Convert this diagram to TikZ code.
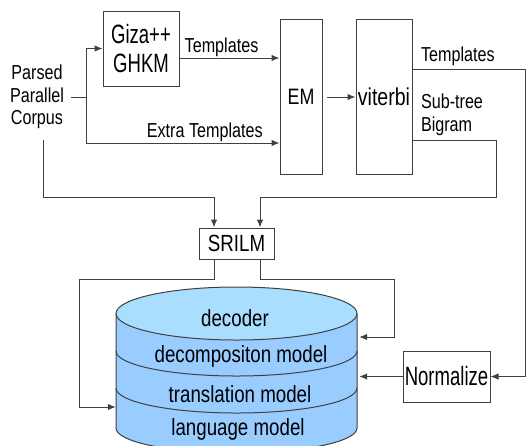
\documentclass[tikz,border=0pt]{standalone}
\usepackage{fontspec}
\setmainfont[FakeStretch=0.80]{Liberation Sans}
\newfontfamily\narrowfont[FakeStretch=0.70]{Liberation Sans}
\usetikzlibrary{arrows.meta,positioning}
\definecolor{dbtop}{RGB}{170,222,255}
\definecolor{dbbody}{RGB}{153,204,255}

\begin{document}
\begin{tikzpicture}[x=1pt,y=-1pt,
    box/.style={draw=black!75,line width=1pt,inner sep=0pt,align=center},
    lbl/.style={inner sep=1pt,font=\fontsize{20.2}{22.5}\selectfont},
    dbtxt/.style={inner sep=0pt,anchor=base,font=\fontsize{23.4}{27}\selectfont},
    conn/.style={draw=black!75,line width=1pt},
    flow/.style={conn,-{Latex[length=8pt,width=6.5pt]}}]
    \useasboundingbox (0,0) rectangle (526,445);

    % the database cylinder
    \fill[dbbody] (116,313.5) -- (116,428) arc[start angle=180,end angle=0,x radius=120.5,y radius=25] -- (357,313.5) -- cycle;
    \draw[conn] (116,313.5) -- (116,428) arc[start angle=180,end angle=0,x radius=120.5,y radius=25] -- (357,313.5);
    \draw[conn,fill=dbtop] (236.5,313.5) ellipse[x radius=120.5,y radius=26.5];
    \draw[conn] (116,351) arc[start angle=180,end angle=0,x radius=120.5,y radius=25];
    \draw[conn] (116,388) arc[start angle=180,end angle=0,x radius=120.5,y radius=25];
    \node[minimum width=241pt,minimum height=120pt,inner sep=0pt] (db) at (236.5,380) {};
    \node[dbtxt] (decoder) at (235,326) {decoder};
    \node[dbtxt] (decomp) at (241,362) {decompositon model};
    \node[dbtxt] (transl) at (240,402) {translation model};
    \node[dbtxt] (langm) at (238,435) {language model};

    \node[lbl,align=center] (corpus) at (37,97) {Parsed\\Parallel\\Corpus};
    \node[box,minimum width=76pt,minimum height=75pt,font=\narrowfont\fontsize{26.5}{29}\selectfont] (giza) at (141,48.5) {Giza++\\GHKM};
    \node[box,minimum width=42pt,minimum height=155pt,font=\fontsize{22.3}{25}\selectfont] (em) at (301,97) {EM};
    \node[box,minimum width=56pt,minimum height=155pt,font=\fontsize{24.4}{27}\selectfont] (viterbi) at (384,97) {viterbi};
    \node[box,minimum width=75pt,minimum height=31pt,font=\fontsize{23.4}{26}\selectfont] (srilm) at (236.5,243.5) {SRILM};
    \node[box,minimum width=87pt,minimum height=51pt,font=\narrowfont\fontsize{26.5}{29}\selectfont] (normalize) at (446.5,376.5) {Normalize};

    \coordinate (split) at (86,97);
    \coordinate (tpl) at (0,58);
    \coordinate (xtpl) at (0,143);
    \coordinate (tplout) at (0,69);
    \coordinate (rim) at (525,0);
    \coordinate (bgm) at (496,140);
    \coordinate (merge) at (0,197);
    \coordinate (inL) at ([xshift=-22.5pt]srilm.north);
    \coordinate (inR) at ([xshift=23.5pt]srilm.north);
    \coordinate (outL) at ([xshift=-22.5pt]srilm.south);
    \coordinate (outR) at ([xshift=23.5pt]srilm.south);
    \coordinate (loopL) at (79,279);
    \coordinate (loopR) at (394,279);
    \coordinate (lmin) at (0,407);
    \coordinate (decin) at (0,337);
    \coordinate (dbR) at ([xshift=2pt]db.east);

    \draw[conn] ([xshift=6pt]corpus.east) -- (split);
    \draw[flow] (split) |- (giza.west);
    \draw[flow] (split) |- node[lbl,above,pos=0.807] {Extra Templates} (em.west |- xtpl);
    \draw[flow] (giza.east |- tpl) -- node[lbl,above,pos=0.42] {Templates} (em.west |- tpl);
    \draw[flow] ([xshift=4pt]em.east) -- (viterbi.west);
    \draw[flow] (viterbi.east |- tplout) node[lbl,above right,xshift=7pt,yshift=2pt] {Templates} -- (rim |- tplout) |- (normalize.east);
    \draw[flow] (viterbi.east |- bgm) node[lbl,above right,align=left,xshift=7pt,yshift=3pt] {Sub-tree\\Bigram} -- (bgm) |- (merge -| inR) -- (inR);
    \draw[flow] ([xshift=6pt,yshift=-10pt]corpus.south) |- (merge -| inL) -- (inL);
    \draw[flow] (outL) |- (loopL) |- (db.west |- lmin);
    \draw[flow] (outR) |- (loopR) |- (dbR |- decin);
    \draw[flow] (normalize.west) -- (dbR |- normalize.west);
\end{tikzpicture}
\end{document}
